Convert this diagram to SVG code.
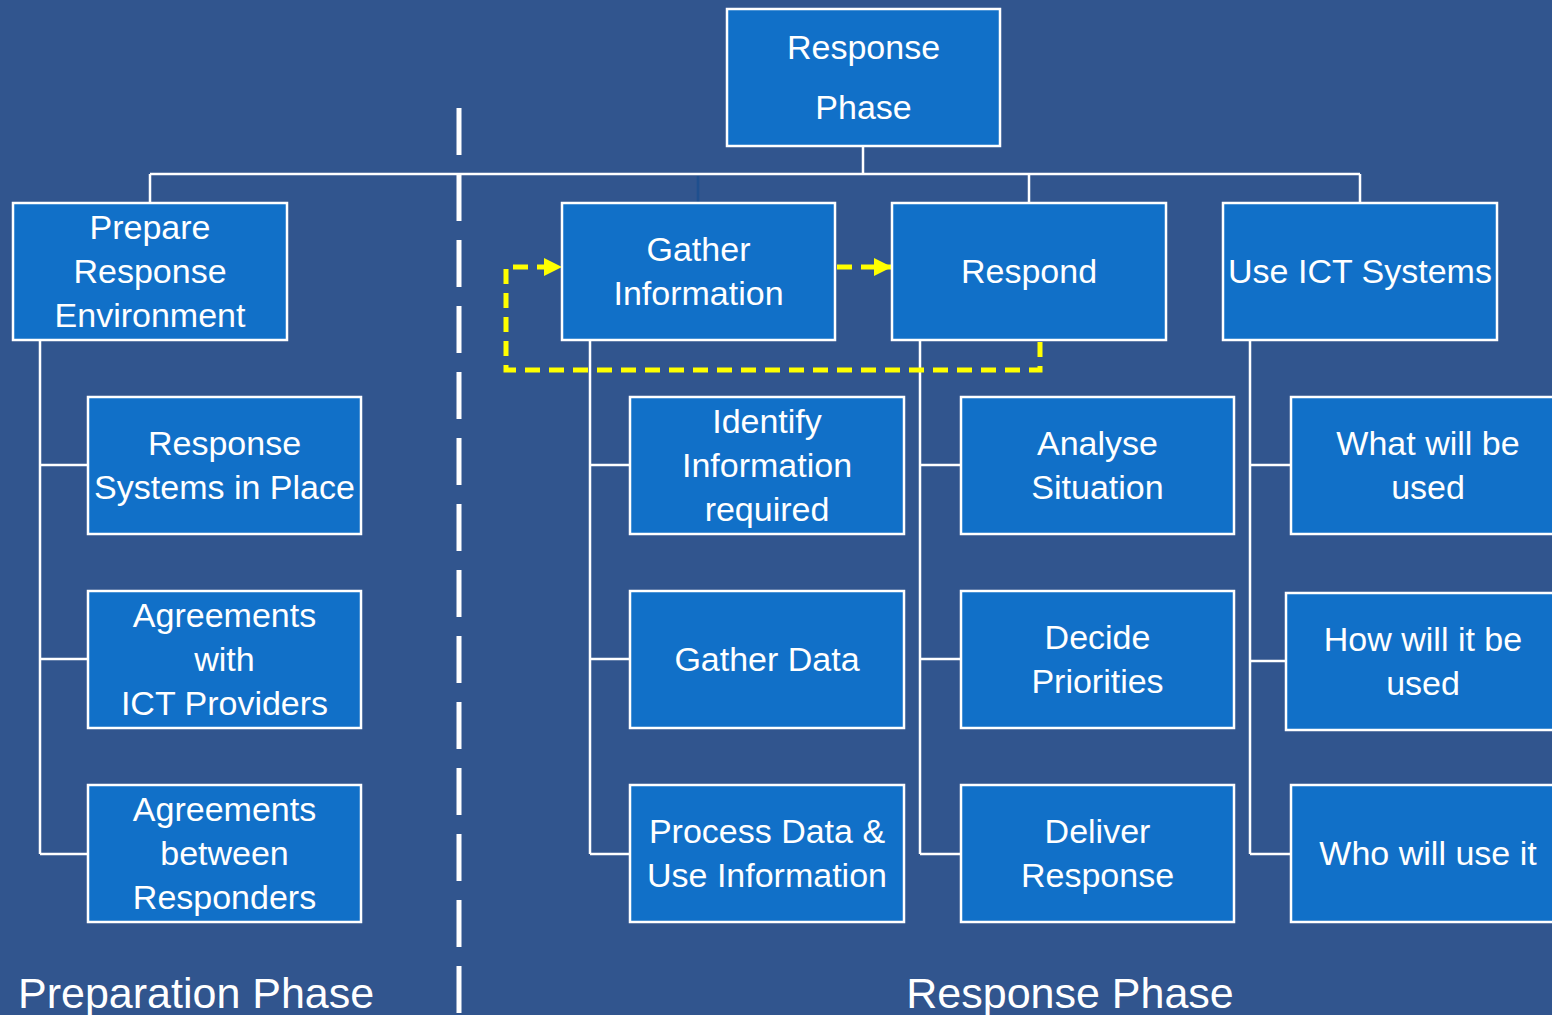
<svg xmlns="http://www.w3.org/2000/svg" width="1552" height="1015" viewBox="0 0 1552 1015">
<style>
.bg{fill:#31558E}
.box{fill:#1170C8;stroke:#FFFFFF;stroke-width:2.5}
.t{font-family:"Liberation Sans",Arial,sans-serif;font-size:34px;fill:#FFFFFF;text-anchor:middle}
.lbl{font-family:"Liberation Sans",Arial,sans-serif;font-size:43px;fill:#FFFFFF}
.con{fill:none;stroke:#FFFFFF;stroke-width:2.5}
.y{fill:none;stroke:#FFFF00;stroke-width:5;stroke-dasharray:15 9}
</style>
<defs>
<marker id="ya" viewBox="0 0 18 18" refX="18" refY="9" markerWidth="18" markerHeight="18" orient="auto" markerUnits="userSpaceOnUse">
<path d="M0,0 L18,9 L0,18 Z" fill="#FFFF00"/>
</marker>
</defs>
<rect class="bg" x="0" y="0" width="1552" height="1015"/>

<g id="divider">
<line x1="459" y1="108" x2="459" y2="1015" stroke="#FFFFFF" stroke-width="5" stroke-dasharray="47 19"/>
</g>

<g id="connectors">
<path class="con" d="M863,146 V174 M150,174 H1360 M150,174 V203 M1029,174 V203 M1360,174 V203"/>
<line x1="698" y1="176" x2="698" y2="203" stroke="#1F4F8E" stroke-width="2.5"/>
<path class="con" d="M40,340 V854 M40,465 H88 M40,659 H88 M40,854 H88"/>
<path class="con" d="M590,340 V854 M590,465 H630 M590,659 H630 M590,854 H630"/>
<path class="con" d="M920,340 V854 M920,465 H961 M920,659 H961 M920,854 H961"/>
<path class="con" d="M1250,340 V854 M1250,465 H1291 M1250,661 H1286 M1250,854 H1291"/>
<path class="y" d="M1040,342 V370 H506 V267 H562" marker-end="url(#ya)"/>
<path class="y" d="M837,267 H892" marker-end="url(#ya)"/>
</g>

<g id="root">
<rect class="box" x="727" y="9" width="273" height="137"/>
<text class="t" x="863.5" y="59">Response</text>
<text class="t" x="863.5" y="119">Phase</text>
</g>

<g id="prepare">
<rect class="box" x="13" y="203" width="274" height="137"/>
<text class="t" x="150" y="239">Prepare</text>
<text class="t" x="150" y="283">Response</text>
<text class="t" x="150" y="327">Environment</text>
</g>
<g id="gather">
<rect class="box" x="562" y="203" width="273" height="137"/>
<text class="t" x="698.5" y="261">Gather</text>
<text class="t" x="698.5" y="305">Information</text>
</g>
<g id="respond">
<rect class="box" x="892" y="203" width="274" height="137"/>
<text class="t" x="1029" y="283">Respond</text>
</g>
<g id="useict">
<rect class="box" x="1223" y="203" width="274" height="137"/>
<text class="t" x="1360" y="283">Use ICT Systems</text>
</g>

<g id="systems">
<rect class="box" x="88" y="397" width="273" height="137"/>
<text class="t" x="224.5" y="455">Response</text>
<text class="t" x="224.5" y="499">Systems in Place</text>
</g>
<g id="agreeict">
<rect class="box" x="88" y="591" width="273" height="137"/>
<text class="t" x="224.5" y="627">Agreements</text>
<text class="t" x="224.5" y="671">with</text>
<text class="t" x="224.5" y="715">ICT Providers</text>
</g>
<g id="agreeresp">
<rect class="box" x="88" y="785" width="273" height="137"/>
<text class="t" x="224.5" y="821">Agreements</text>
<text class="t" x="224.5" y="865">between</text>
<text class="t" x="224.5" y="909">Responders</text>
</g>

<g id="identify">
<rect class="box" x="630" y="397" width="274" height="137"/>
<text class="t" x="767" y="433">Identify</text>
<text class="t" x="767" y="477">Information</text>
<text class="t" x="767" y="521">required</text>
</g>
<g id="gatherdata">
<rect class="box" x="630" y="591" width="274" height="137"/>
<text class="t" x="767" y="671">Gather Data</text>
</g>
<g id="process">
<rect class="box" x="630" y="785" width="274" height="137"/>
<text class="t" x="767" y="843">Process Data &amp;</text>
<text class="t" x="767" y="887">Use Information</text>
</g>

<g id="analyse">
<rect class="box" x="961" y="397" width="273" height="137"/>
<text class="t" x="1097.5" y="455">Analyse</text>
<text class="t" x="1097.5" y="499">Situation</text>
</g>
<g id="decide">
<rect class="box" x="961" y="591" width="273" height="137"/>
<text class="t" x="1097.5" y="649">Decide</text>
<text class="t" x="1097.5" y="693">Priorities</text>
</g>
<g id="deliver">
<rect class="box" x="961" y="785" width="273" height="137"/>
<text class="t" x="1097.5" y="843">Deliver</text>
<text class="t" x="1097.5" y="887">Response</text>
</g>

<g id="what">
<rect class="box" x="1291" y="397" width="280" height="137"/>
<text class="t" x="1428" y="455">What will be</text>
<text class="t" x="1428" y="499">used</text>
</g>
<g id="how">
<rect class="box" x="1286" y="593" width="280" height="137"/>
<text class="t" x="1423" y="651">How will it be</text>
<text class="t" x="1423" y="695">used</text>
</g>
<g id="who">
<rect class="box" x="1291" y="785" width="280" height="137"/>
<text class="t" x="1428" y="865">Who will use it</text>
</g>

<g id="labels">
<text class="lbl" x="18" y="1008">Preparation Phase</text>
<text class="lbl" x="1070" y="1008" text-anchor="middle">Response Phase</text>
</g>
</svg>
